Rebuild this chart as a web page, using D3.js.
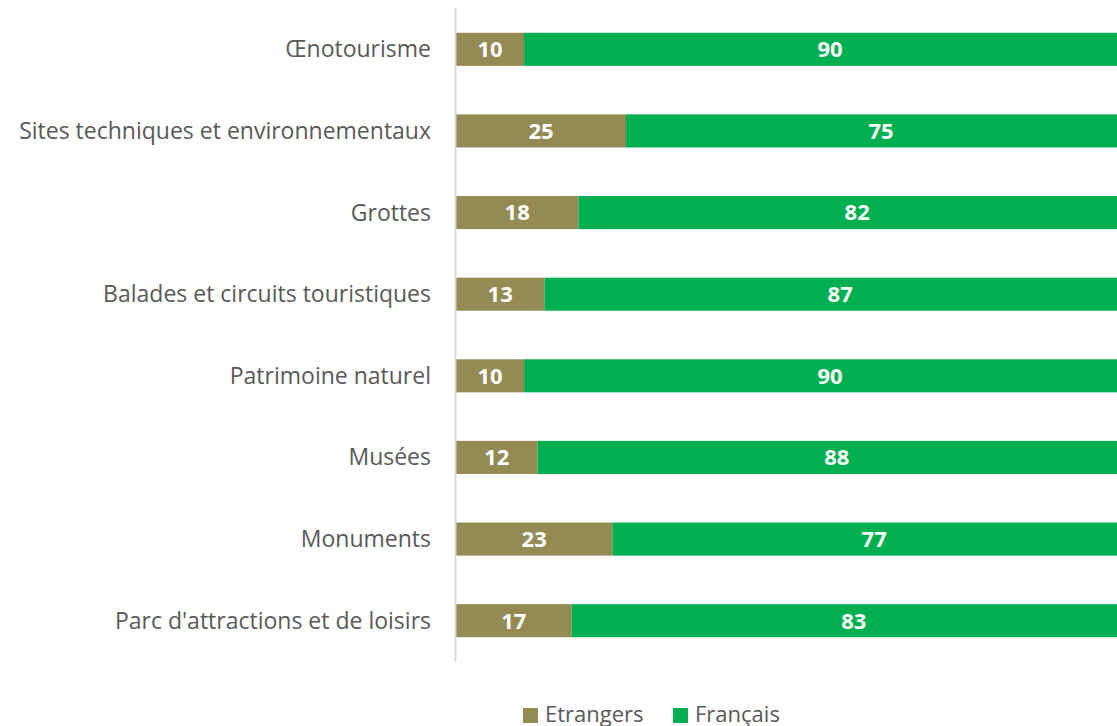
<!DOCTYPE html>
<html>
<head>
<meta charset="utf-8">
<script src="https://cdn.jsdelivr.net/npm/d3@7"></script>
<style>
  body { margin: 0; background: #fff; overflow: hidden; }
  svg { display: block; }
</style>
</head>
<body>
<div id="chart"></div>
<script>
var categories = ["Œnotourisme", "Sites techniques et environnementaux", "Grottes",
  "Balades et circuits touristiques", "Patrimoine naturel", "Musées", "Monuments",
  "Parc d'attractions et de loisirs"];
var etrangers = [10, 25, 18, 13, 10, 12, 23, 17];
var francais = [90, 75, 82, 87, 90, 88, 77, 83];
var seriesNames = ["Etrangers", "Français"];
var colors = ["#948A54", "#00B050"];

var width = 1117, height = 726;
var font = "'Open Sans', sans-serif";

var svg = d3.select("#chart").append("svg")
  .attr("width", width)
  .attr("height", height);

var rows = categories.map(function (c, i) {
  return { cat: c, Etrangers: etrangers[i], "Français": francais[i] };
});
var stacked = d3.stack().keys(seriesNames)(rows);

var x = d3.scaleLinear().domain([0, 100]).range([456, 1136]);
var y = d3.scaleBand().domain(categories).range([8.5, 661.5]).paddingInner(0.595).paddingOuter(0.2975);

// category labels
svg.append("g").selectAll("text")
  .data(categories)
  .enter().append("text")
  .attr("x", 431)
  .attr("y", function (d) { return y(d) + y.bandwidth() / 2; })
  .attr("dy", "0.35em")
  .attr("text-anchor", "end")
  .attr("font-family", font)
  .attr("font-size", "23px")
  .attr("fill", "#595959")
  .text(function (d) { return d; });

// bars
var layers = svg.append("g").selectAll("g")
  .data(stacked)
  .enter().append("g")
  .attr("fill", function (d, i) { return colors[i]; });

layers.selectAll("rect")
  .data(function (d) { return d; })
  .enter().append("rect")
  .attr("x", function (d) { return x(d[0]); })
  .attr("y", function (d) { return y(d.data.cat); })
  .attr("width", function (d) { return x(d[1]) - x(d[0]); })
  .attr("height", y.bandwidth());

// value labels
layers.selectAll("text")
  .data(function (d) { return d; })
  .enter().append("text")
  .attr("x", function (d) { return (x(d[0]) + x(d[1])) / 2; })
  .attr("y", function (d) { return y(d.data.cat) + y.bandwidth() / 2; })
  .attr("dy", "0.36em")
  .attr("text-anchor", "middle")
  .attr("font-family", font)
  .attr("font-weight", "bold")
  .attr("font-size", "22px")
  .attr("fill", "#fff")
  .text(function (d) { return d[1] - d[0]; });

// vertical axis line
svg.append("line")
  .attr("x1", 455.5).attr("x2", 455.5)
  .attr("y1", 8).attr("y2", 662)
  .attr("stroke", "#d9d9d9")
  .attr("stroke-width", 2);

// legend
var legendX = [523, 673];
var legend = svg.append("g").selectAll("g")
  .data(seriesNames)
  .enter().append("g")
  .attr("transform", function (d, i) { return "translate(" + legendX[i] + ",708)"; });
legend.append("rect")
  .attr("width", 15).attr("height", 15)
  .attr("fill", function (d, i) { return colors[i]; });
legend.append("text")
  .attr("x", 22)
  .attr("y", 14)
  .attr("font-family", font)
  .attr("font-size", "22px")
  .attr("fill", "#595959")
  .text(function (d) { return d; });
</script>
</body>
</html>
